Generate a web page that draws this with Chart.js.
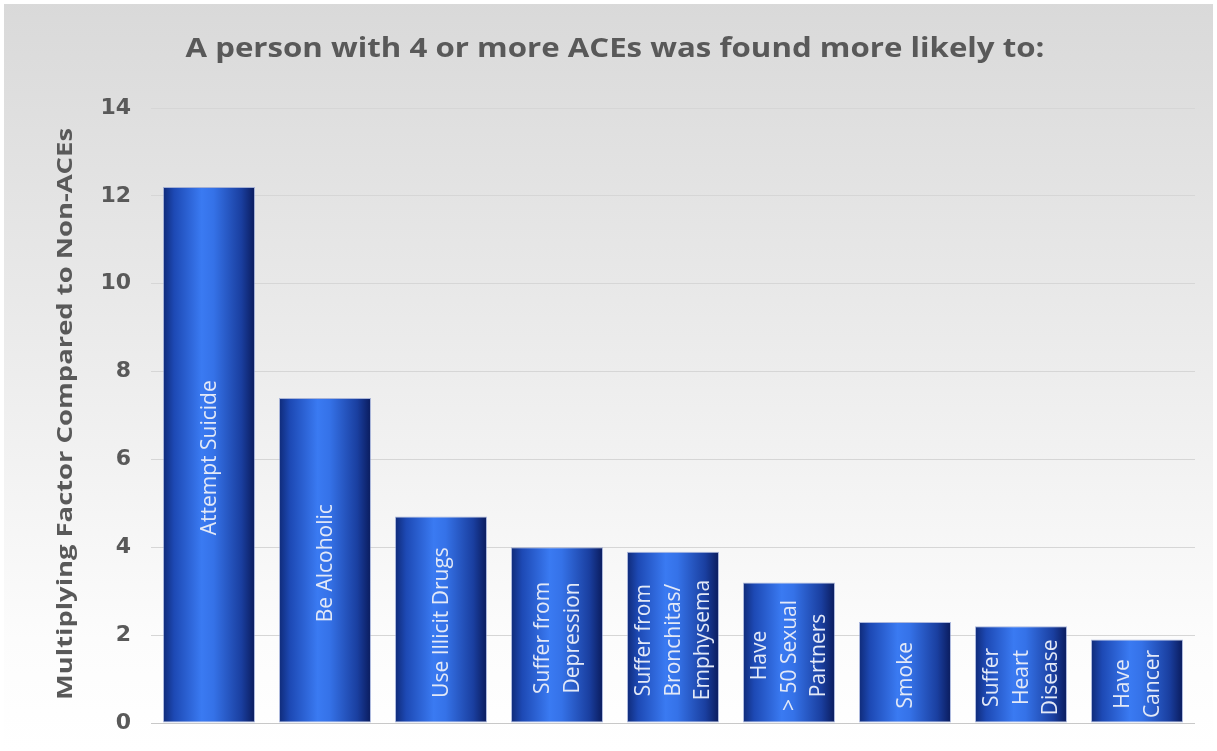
<!DOCTYPE html>
<html>
<head>
<meta charset="utf-8">
<script src="https://cdn.jsdelivr.net/npm/chart.js@4.4.1/dist/chart.umd.min.js"></script>
<style>
html,body{margin:0;padding:0;background:#fff;}
#wrap{width:1217px;height:751px;position:relative;}
</style>
</head>
<body>
<div id="wrap"><canvas id="c" width="1217" height="751"></canvas></div>
<script>
const categories = [
  ["Attempt Suicide"],
  ["Be Alcoholic"],
  ["Use Illicit Drugs"],
  ["Suffer from", "Depression"],
  ["Suffer from", "Bronchitas/", "Emphysema"],
  ["Have", "> 50 Sexual", "Partners"],
  ["Smoke"],
  ["Suffer", "Heart", "Disease"],
  ["Have", "Cancer"]
];
const values = [12.2, 7.4, 4.7, 4.0, 3.9, 3.2, 2.3, 2.2, 1.9];
const yTicks = [0, 2, 4, 6, 8, 10, 12, 14];
const chartTitle = "A person with 4 or more ACEs was found more likely to:";
const yTitle = "Multiplying Factor Compared to Non-ACEs";

const bgPlugin = {
  id: 'bg',
  beforeDraw(chart) {
    const ctx = chart.ctx;
    const g = ctx.createLinearGradient(0, 0, 0, chart.height);
    g.addColorStop(0, '#d9d9d9');
    g.addColorStop(0.45, '#ebebeb');
    g.addColorStop(0.85, '#fcfcfc');
    g.addColorStop(1, '#ffffff');
    ctx.save();
    ctx.fillStyle = '#ffffff';
    ctx.fillRect(0, 0, chart.width, chart.height);
    ctx.fillStyle = g;
    ctx.fillRect(4, 4, chart.width - 8, chart.height - 4);
    ctx.restore();
  }
};

// Chart title and y-axis title, drawn as real text, stretched to the reference's extents
const titlesPlugin = {
  id: 'titles',
  afterDraw(chart) {
    const ctx = chart.ctx;
    const area = chart.chartArea;
    ctx.save();
    ctx.fillStyle = '#595959';
    ctx.textAlign = 'center';
    ctx.textBaseline = 'middle';
    ctx.font = 'bold 26px "Open Sans"';
    let w = ctx.measureText(chartTitle).width;
    ctx.save();
    ctx.translate(615, 50);
    ctx.scale(859 / w, 1);
    ctx.fillText(chartTitle, 0, 0);
    ctx.restore();
    ctx.font = 'bold 22px "Open Sans"';
    w = ctx.measureText(yTitle).width;
    ctx.save();
    ctx.translate(66, 414);
    ctx.rotate(-Math.PI / 2);
    ctx.scale(572 / w, 1);
    ctx.fillText(yTitle, 0, 0);
    ctx.restore();
    ctx.restore();
  }
};

const barLabelPlugin = {
  id: 'barLabels',
  afterDatasetsDraw(chart) {
    const ctx = chart.ctx;
    const meta = chart.getDatasetMeta(0);
    ctx.save();
    ctx.fillStyle = '#e3e9f7';
    ctx.font = '21px "Open Sans"';
    ctx.textAlign = 'center';
    ctx.textBaseline = 'middle';
    const lineGap = 29.5;
    meta.data.forEach((bar, i) => {
      const lines = categories[i];
      const cy = (bar.y + bar.base) / 2 + 3;
      const n = lines.length;
      lines.forEach((t, j) => {
        const lx = bar.x + (j - (n - 1) / 2) * lineGap;
        ctx.save();
        ctx.translate(lx, cy);
        ctx.rotate(-Math.PI / 2);
        ctx.fillText(t, 0, 1);
        ctx.restore();
      });
    });
    ctx.restore();
  }
};

function barGradient(context) {
  const chart = context.chart;
  const xs = chart.scales.x;
  if (!xs || !chart.chartArea) return '#2a5fd0';
  const i = context.dataIndex;
  const cx = xs.getPixelForValue(i);
  const catW = (xs.right - xs.left) / categories.length;
  const w = catW * 0.793;
  const x0 = cx - w / 2, x1 = cx + w / 2;
  const g = chart.ctx.createLinearGradient(x0, 0, x1, 0);
  g.addColorStop(0, '#0f2a78');
  g.addColorStop(0.12, '#1d49b4');
  g.addColorStop(0.42, '#3a7af2');
  g.addColorStop(0.55, '#3572e8');
  g.addColorStop(0.85, '#1a3fa0');
  g.addColorStop(1, '#0a1b5c');
  return g;
}

new Chart(document.getElementById('c'), {
  type: 'bar',
  data: {
    labels: categories.map(c => c.join(' ')),
    datasets: [{
      data: values,
      backgroundColor: barGradient,
      borderColor: 'rgba(120,140,200,0.6)',
      borderWidth: 1,
      borderSkipped: false,
      barPercentage: 0.793,
      categoryPercentage: 1.0
    }]
  },
  options: {
    responsive: false,
    animation: false,
    devicePixelRatio: 1,
    layout: { padding: { left: 0, right: 22, top: 108, bottom: 28 } },
    plugins: {
      legend: { display: false },
      tooltip: { enabled: false },
      title: { display: false }
    },
    scales: {
      x: {
        display: false
      },
      y: {
        min: 0,
        max: 14,
        afterBuildTicks(scale) {
          scale.ticks = yTicks.map(v => ({ value: v }));
        },
        afterFit(scale) {
          scale.width = 151;
          scale.paddingTop = 0;
          scale.paddingBottom = 0;
        },
        grid: {
          color: ctx => ctx.tick && ctx.tick.value === 0 ? '#c8c8c8' : '#d6d6d6',
          lineWidth: 1,
          drawTicks: false
        },
        border: { display: false },
        ticks: {
          color: '#595959',
          padding: 20,
          font: { family: 'DejaVu Sans', size: 22, weight: 'bold' }
        },
        title: { display: false }
      }
    }
  },
  plugins: [bgPlugin, titlesPlugin, barLabelPlugin]
});
</script>
</body>
</html>
